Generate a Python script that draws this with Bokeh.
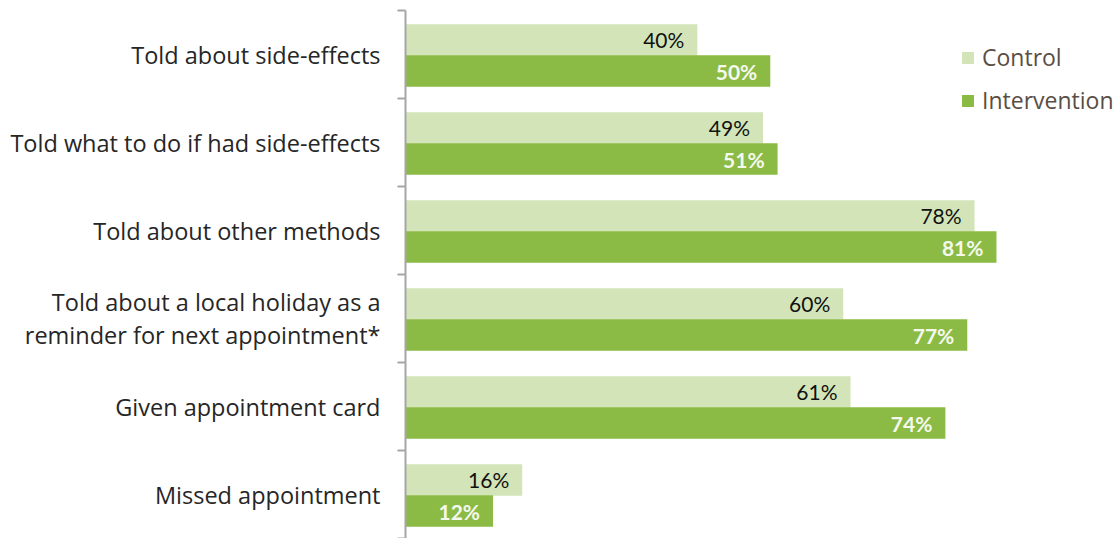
import numpy as np
from bokeh.plotting import figure
from bokeh.models import Range1d, FixedTicker, Legend, LegendItem, ColumnDataSource
from bokeh.core.properties import value
from bokeh.embed import file_html
from bokeh.resources import INLINE

categories = [
    "Told about side-effects",
    "Told what to do if had side-effects",
    "Told about other methods",
    "Told about a local holiday as a\nreminder for next appointment*",
    "Given appointment card",
    "Missed appointment",
]
control = [40, 49, 78, 60, 61, 16]
intervention = [50, 51, 81, 77, 74, 12]
series_names = ["Control", "Intervention"]

FONT = "Lato"
LFONT = "Open Sans"
C_CONTROL = "#d3e5b8"
C_INTER = "#8cbb45"
AXIS_GRAY = "#a6a6a6"

n = len(categories)
idx = np.arange(n)
centers = idx + 0.5

src = ColumnDataSource(dict(
    yc=idx + 0.335,
    yi=idx + 0.6875,
    control=control,
    intervention=intervention,
    lc=[f"{v}%" for v in control],
    li=[f"{v}%" for v in intervention],
))

p = figure(width=1120, height=538, output_backend="svg", toolbar_location=None,
           x_range=Range1d(0, 98), y_range=Range1d(n, 0),
           min_border_left=405, min_border_right=0, min_border_top=10, min_border_bottom=0)
p.frame_width = 715
p.frame_height = 528
p.outline_line_color = None
p.grid.visible = False
p.xaxis.visible = False
p.background_fill_color = "white"

rc = p.hbar(y="yc", right="control", left=0, height=0.36, source=src,
            fill_color=C_CONTROL, line_color=None)
ri = p.hbar(y="yi", right="intervention", left=0, height=0.36, source=src,
            fill_color=C_INTER, line_color=None)

p.text(x="control", y="yc", text="lc", source=src, x_offset=-13,
       text_align="right", text_baseline="middle", text_font=value(FONT),
       text_font_size="21px", text_color="#111111")
p.text(x="intervention", y="yi", text="li", source=src, x_offset=-13,
       text_align="right", text_baseline="middle", text_font=value(FONT),
       text_font_size="21px", text_font_style="bold", text_color="#f4f9ee")

ax = p.yaxis[0]
ax.ticker = FixedTicker(ticks=list(centers), minor_ticks=list(np.arange(n + 1)))
ax.major_label_overrides = {float(c): lab for c, lab in zip(centers, categories)}
ax.major_tick_line_color = None
ax.major_tick_out = 0
ax.major_tick_in = 0
ax.minor_tick_line_color = AXIS_GRAY
ax.minor_tick_line_width = 2
ax.minor_tick_out = 8
ax.minor_tick_in = 0
ax.axis_line_color = AXIS_GRAY
ax.axis_line_width = 2
ax.major_label_standoff = 17
ax.major_label_text_font = LFONT
ax.major_label_text_font_size = "23.5px"
ax.major_label_text_color = "#262626"
ax.major_label_text_line_height = 1.05
ax.major_label_text_align = "right"

legend = Legend(items=[LegendItem(label=series_names[0], renderers=[rc]),
                       LegendItem(label=series_names[1], renderers=[ri])],
                location=(555, 422), padding=0, spacing=11, border_line_color=None,
                background_fill_alpha=0, glyph_width=15, glyph_height=15,
                label_standoff=7, label_text_font=LFONT, label_text_font_size="23px",
                label_text_color="#5a4e44")
p.add_layout(legend)

open("out.html", "w").write(file_html(p, INLINE))
